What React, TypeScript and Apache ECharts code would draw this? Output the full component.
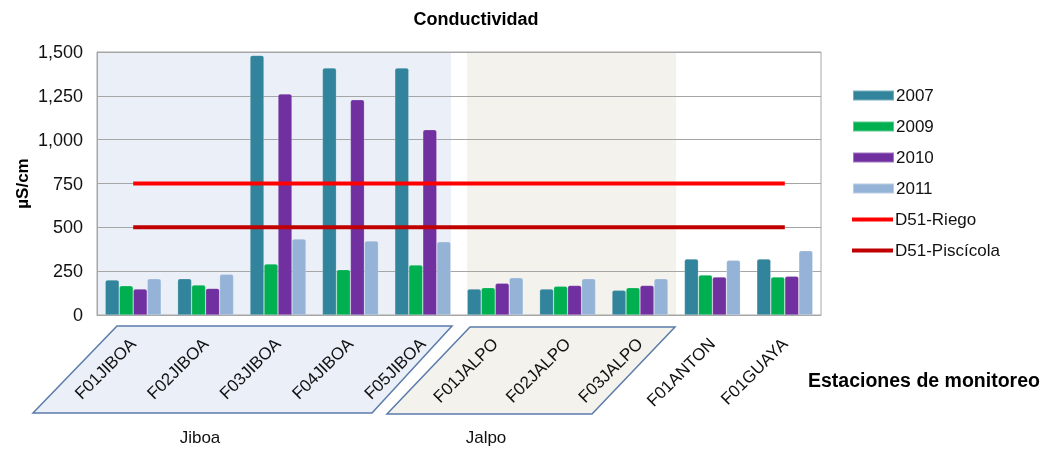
import React, { useEffect, useRef } from "react";
import * as echarts from "echarts";

const categories = [
  "F01JIBOA", "F02JIBOA", "F03JIBOA", "F04JIBOA", "F05JIBOA",
  "F01JALPO", "F02JALPO", "F03JALPO", "F01ANTON", "F01GUAYA",
];
const s2007 = [200, 207, 1481, 1409, 1409, 148, 148, 141, 319, 319];
const s2009 = [167, 171, 291, 259, 285, 156, 164, 156, 228, 217];
const s2010 = [148, 152, 1261, 1228, 1057, 181, 169, 169, 217, 221];
const s2011 = [207, 232, 434, 422, 418, 213, 207, 207, 312, 367];
const riego = [750, 750, 750, 750, 750, 750, 750, 750, 750, 750];
const piscicola = [500, 500, 500, 500, 500, 500, 500, 500, 500, 500];
const yTicks = [0, 250, 500, 750, 1000, 1250, 1500];
const groupLabels = ["Jiboa", "Jalpo"];

const FONT = "'Liberation Sans', Arial, sans-serif";

export default function App() {
  const ref = useRef<HTMLDivElement>(null);
  useEffect(() => {
    if (!ref.current) return;
    const chart = echarts.init(ref.current, undefined, { renderer: "svg" });
    const barCommon = {
      type: "bar",
      barWidth: 14,
      barGap: "0%",
      itemStyle: { borderRadius: [2, 2, 0, 0], borderColor: "rgba(255,255,255,0.35)", borderWidth: 0.6 },
    };
    const legendText = { fontSize: 17, color: "#111", fontFamily: FONT, lineHeight: 17, padding: [0, 0, 0, -3] };
    chart.setOption({
      animation: false,
      textStyle: { fontFamily: FONT },
      title: {
        text: "Conductividad",
        left: 471,
        textAlign: "center",
        top: 5,
        textStyle: { fontSize: 18, fontWeight: "bold", color: "#000", fontFamily: FONT },
      },
      grid: {
        left: 97,
        right: 225,
        top: 52,
        bottom: 135,
        show: true,
        borderColor: "#a6a6a6",
        borderWidth: 1,
        backgroundColor: "transparent",
      },
      legend: [
        {
          orient: "vertical",
          left: 847,
          top: 82,
          itemWidth: 41,
          itemHeight: 10,
          itemGap: 14,
          textStyle: legendText,
          data: [
            { name: "2007", icon: "rect" },
            { name: "2009", icon: "rect" },
            { name: "2010", icon: "rect" },
            { name: "2011", icon: "rect" },
          ],
        },
        {
          orient: "vertical",
          left: 847,
          top: 206,
          itemWidth: 41,
          itemHeight: 4,
          itemGap: 14,
          textStyle: legendText,
          data: [
            { name: "D51-Riego", icon: "rect" },
            { name: "D51-Piscícola", icon: "rect" },
          ],
        },
      ],
      xAxis: [
        {
          type: "category",
          data: categories,
          axisLine: { lineStyle: { color: "#a6a6a6" } },
          axisTick: { alignWithLabel: true, length: 4, lineStyle: { color: "#a6a6a6" } },
          axisLabel: { rotate: 45, fontSize: 17, color: "#111", margin: 26, fontFamily: FONT },
        },
        { type: "value", min: 0, max: 10, show: false },
      ],
      yAxis: {
        type: "value",
        min: yTicks[0],
        max: yTicks[yTicks.length - 1],
        interval: 250,
        name: "µS/cm",
        nameLocation: "middle",
        nameGap: 66,
        nameMoveOverlap: false,
        nameTextStyle: { fontSize: 17, fontWeight: "bold", color: "#000", fontFamily: FONT },
        axisLine: { show: true, lineStyle: { color: "#a6a6a6" } },
        axisTick: { show: false },
        splitLine: { lineStyle: { color: "#a6a6a6" } },
        axisLabel: {
          fontSize: 18,
          color: "#111",
          margin: 14,
          fontFamily: FONT,
          formatter: (v: number) => v.toLocaleString("en-US"),
        },
      },
      series: [
        {
          name: "_band",
          type: "line",
          xAxisIndex: 1,
          data: [],
          z: -2,
          silent: true,
          markArea: {
            silent: true,
            z: -2,
            data: [
              [{ xAxis: 0, itemStyle: { color: "#eaeff8" } }, { xAxis: 4.89 }],
              [{ xAxis: 5.11, itemStyle: { color: "#f3f2ec" } }, { xAxis: 8 }],
            ],
          },
        },
        { ...barCommon, name: "2007", data: s2007, itemStyle: { ...barCommon.itemStyle, color: "#31849b" } },
        { ...barCommon, name: "2009", data: s2009, itemStyle: { ...barCommon.itemStyle, color: "#00b050" } },
        { ...barCommon, name: "2010", data: s2010, itemStyle: { ...barCommon.itemStyle, color: "#7030a0" } },
        { ...barCommon, name: "2011", data: s2011, itemStyle: { ...barCommon.itemStyle, color: "#95b3d7" } },
        {
          name: "D51-Riego",
          type: "line",
          data: riego,
          symbol: "none",
          z: 5,
          lineStyle: { color: "#ff0000", width: 4 },
          itemStyle: { color: "#ff0000" },
        },
        {
          name: "D51-Piscícola",
          type: "line",
          data: piscicola,
          symbol: "none",
          z: 5,
          lineStyle: { color: "#c00000", width: 4 },
          itemStyle: { color: "#c00000" },
        },
      ],
      graphic: [
        {
          type: "polygon",
          z: -1,
          shape: { points: [[117, 326], [452, 326], [372, 413], [33, 413]] },
          style: { fill: "#eaeff8", stroke: "#5b7bab", lineWidth: 1.5 },
        },
        {
          type: "polygon",
          z: -1,
          shape: { points: [[470, 327], [675, 327], [592, 414], [387, 414]] },
          style: { fill: "#f3f2ec", stroke: "#5b7bab", lineWidth: 1.5 },
        },
        {
          type: "text",
          x: 200,
          y: 437,
          style: { text: groupLabels[0], fontSize: 17, fill: "#111", align: "center", verticalAlign: "middle", fontFamily: FONT },
        },
        {
          type: "text",
          x: 486,
          y: 437,
          style: { text: groupLabels[1], fontSize: 17, fill: "#111", align: "center", verticalAlign: "middle", fontFamily: FONT },
        },
        {
          type: "text",
          x: 808,
          y: 380,
          style: { text: "Estaciones de monitoreo", fontSize: 19.5, fontWeight: "bold", fill: "#000", align: "left", verticalAlign: "middle", fontFamily: FONT },
        },
      ],
    });
    return () => chart.dispose();
  }, []);
  return (
    <div
      ref={ref}
      style={{ position: "fixed", left: 0, top: 0, width: 1046, height: 450 }}
    />
  );
}
